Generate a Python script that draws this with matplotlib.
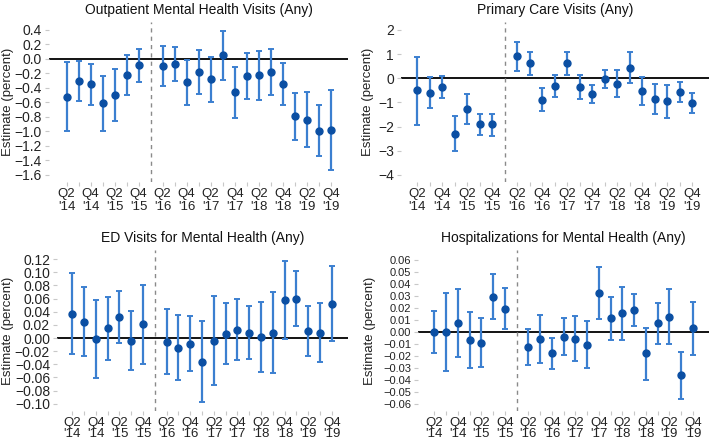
import numpy as np
import matplotlib
matplotlib.use("Agg")
import matplotlib.pyplot as plt

plt.rcParams['font.family'] = ['Liberation Sans', 'DejaVu Sans']

# Quarters (Q1 '16 is the reference quarter: no estimate)
quarters = ["Q2 '14", "Q3 '14", "Q4 '14", "Q1 '15", "Q2 '15", "Q3 '15", "Q4 '15",
            "Q1 '16", "Q2 '16", "Q3 '16", "Q4 '16", "Q1 '17", "Q2 '17", "Q3 '17",
            "Q4 '17", "Q1 '18", "Q2 '18", "Q3 '18", "Q4 '18", "Q1 '19", "Q2 '19",
            "Q3 '19", "Q4 '19"]
reference_quarter = "Q1 '16"
nan = np.nan

titles = ["Outpatient Mental Health Visits (Any)", "Primary Care Visits (Any)",
          "ED Visits for Mental Health (Any)", "Hospitalizations for Mental Health (Any)"]
ylabel = "Estimate (percent)"

# Outpatient mental health visits
op_est = [-0.52, -0.31, -0.35, -0.61, -0.50, -0.22, -0.09, nan,
          -0.10, -0.07, -0.32, -0.18, -0.28, 0.055, -0.46, -0.24, -0.225,
          -0.18, -0.345, -0.795, -0.84, -0.99, -0.98]
op_lo = [-0.99, -0.58, -0.63, -0.99, -0.86, -0.50, -0.32, nan,
         -0.38, -0.30, -0.63, -0.49, -0.59, -0.285, -0.81, -0.56, -0.565,
         -0.50, -0.64, -1.12, -1.22, -1.34, -1.54]
op_hi = [-0.04, -0.03, -0.07, -0.23, -0.14, 0.06, 0.14, nan,
         0.18, 0.16, -0.01, 0.13, 0.03, 0.39, -0.115, 0.08, 0.115,
         0.14, -0.05, -0.47, -0.46, -0.64, -0.43]

# Primary care visits
pc_est = [-0.49, -0.59, -0.37, -2.29, -1.26, -1.88, -1.90, nan,
          0.93, 0.62, -0.88, -0.33, 0.62, -0.34, -0.64, -0.04, -0.22,
          0.44, -0.52, -0.86, -0.95, -0.58, -1.01]
pc_lo = [-1.92, -1.22, -0.82, -3.00, -1.88, -2.33, -2.38, nan,
         0.32, 0.12, -1.36, -0.79, 0.14, -0.85, -1.03, -0.40, -0.78,
         -0.21, -1.10, -1.48, -1.63, -0.97, -1.44]
pc_hi = [0.90, 0.05, 0.08, -1.56, -0.66, -1.47, -1.47, nan,
         1.52, 1.10, -0.41, 0.15, 1.07, 0.15, -0.26, 0.33, 0.36,
         1.07, 0.05, -0.23, -0.27, -0.16, -0.60]

# ED visits for mental health
ed_est = [0.036, 0.024, -0.002, 0.015, 0.032, -0.004, 0.021, nan,
          -0.006, -0.015, -0.009, -0.036, -0.004, 0.006, 0.013, 0.008, 0.001,
          0.008, 0.058, 0.060, 0.011, 0.008, 0.052]
ed_lo = [-0.025, -0.028, -0.061, -0.033, -0.007, -0.048, -0.039, nan,
         -0.055, -0.064, -0.050, -0.098, -0.072, -0.040, -0.033, -0.032, -0.052,
         -0.053, -0.001, 0.018, -0.027, -0.037, -0.005]
ed_hi = [0.099, 0.077, 0.058, 0.063, 0.071, 0.041, 0.081, nan,
         0.044, 0.035, 0.033, 0.026, 0.064, 0.053, 0.060, 0.049, 0.055,
         0.070, 0.117, 0.102, 0.049, 0.054, 0.110]

# Hospitalizations for mental health
ho_est = [0.000, 0.000, 0.007, -0.007, -0.009, 0.029, 0.019, nan,
          -0.013, -0.006, -0.018, -0.0045, -0.006, -0.011, 0.0325, 0.011, 0.0158,
          0.0177, -0.018, 0.0069, 0.0124, -0.036, 0.0028]
ho_lo = [-0.0177, -0.033, -0.021, -0.030, -0.029, 0.0105, 0.002, nan,
         -0.028, -0.026, -0.031, -0.0196, -0.0246, -0.030, 0.0108, -0.0069, -0.0066,
         0.0044, -0.040, -0.010, -0.0105, -0.056, -0.019]
ho_hi = [0.0175, 0.032, 0.0357, 0.016, 0.011, 0.048, 0.036, nan,
         0.002, 0.014, -0.005, 0.011, 0.0127, 0.0086, 0.054, 0.029, 0.0376,
         0.0312, 0.003, 0.0238, 0.0354, -0.0166, 0.0249]

yticks_list = [np.round(np.arange(-1.6, 0.41, 0.2), 2),
               np.arange(-4, 3, 1),
               np.round(np.arange(-0.10, 0.121, 0.02), 2),
               np.round(np.arange(-0.06, 0.061, 0.01), 2)]
yfmt = ["{:.1f}", "{:.0f}", "{:.2f}", "{:.2f}"]

W, H = 709, 446
fig = plt.figure(figsize=(W / 100, H / 100), dpi=100)

# pixel boxes: left, right, top, bottom
boxes = [(49, 348, 22, 182), (401, 709, 22, 182), (57, 348, 250, 411), (418, 709, 250, 411)]
ylabel_x = [8, 368, 8, 370]
ytick_fs = [10, 10, 10, 8]
xtick_ls = [1.08, 1.08, 0.9, 0.9]
xlims = [(-1.47, 23.44), (-1.30, 23.33), (-1.30, 23.38), (-1.39, 23.38)]
ylims = [(-1.70, 0.51), (-4.29, 2.33), (-0.111, 0.134), (-0.066, 0.068)]

data = [(op_est, op_lo, op_hi), (pc_est, pc_lo, pc_hi),
        (ed_est, ed_lo, ed_hi), (ho_est, ho_lo, ho_hi)]

line_col = '#3b7fd0'
pt_col = '#0b4fa3'

x = np.arange(len(quarters))
ref_idx = quarters.index(reference_quarter)
tick_pos = [i for i in x if i != ref_idx]
tick_lab = []
for i in tick_pos:
    q, y = quarters[i].split(" ")
    tick_lab.append(f"{q}\n{y}" if q in ("Q2", "Q4") else "")

for k, ((l, r, t, b), (est, lo, hi)) in enumerate(zip(boxes, data)):
    ax = fig.add_axes([l / W, (H - b) / H, (r - l) / W, (b - t) / H])
    est = np.array(est, float)
    lo = np.array(lo, float)
    hi = np.array(hi, float)
    ax.axhline(0, color='black', lw=1.3, zorder=1)
    ax.axvline(ref_idx, color='#8a8a8a', lw=1.0, ls=(0, (3, 3)), zorder=1)
    ax.errorbar(x, est, yerr=[est - lo, hi - est], fmt='none', ecolor=line_col,
                elinewidth=1.6, capsize=2.4, capthick=1.4, zorder=2)
    ax.plot(x, est, 'o', color=pt_col, ms=5.0, zorder=3, ls='none')
    ax.set_xlim(*xlims[k])
    ax.set_ylim(*ylims[k])
    ax.set_xticks(tick_pos)
    ax.set_xticklabels(tick_lab, fontsize=9.5, linespacing=xtick_ls[k])
    ax.set_yticks(yticks_list[k])
    ax.set_yticklabels([yfmt[k].format(v).replace('-', '\u2212') if abs(v) > 1e-9
                        else yfmt[k].format(0.0) for v in yticks_list[k]],
                       fontsize=ytick_fs[k])
    for s in ax.spines.values():
        s.set_visible(False)
    ax.tick_params(axis='both', length=3, width=0.8, color='#c8c8c8',
                   labelcolor='#222222', pad=2)
    ax.tick_params(axis='x', pad=1.5)
    ax.set_title(titles[k], fontsize=10, color='#111111', pad=6)
    ax.set_facecolor('none')
    fig.text(ylabel_x[k] / W, 1 - ((t + b) / 2) / H, ylabel, rotation=90,
             ha='center', va='center', fontsize=9.5, color='#222222')

fig.savefig("out.png", dpi=100)
